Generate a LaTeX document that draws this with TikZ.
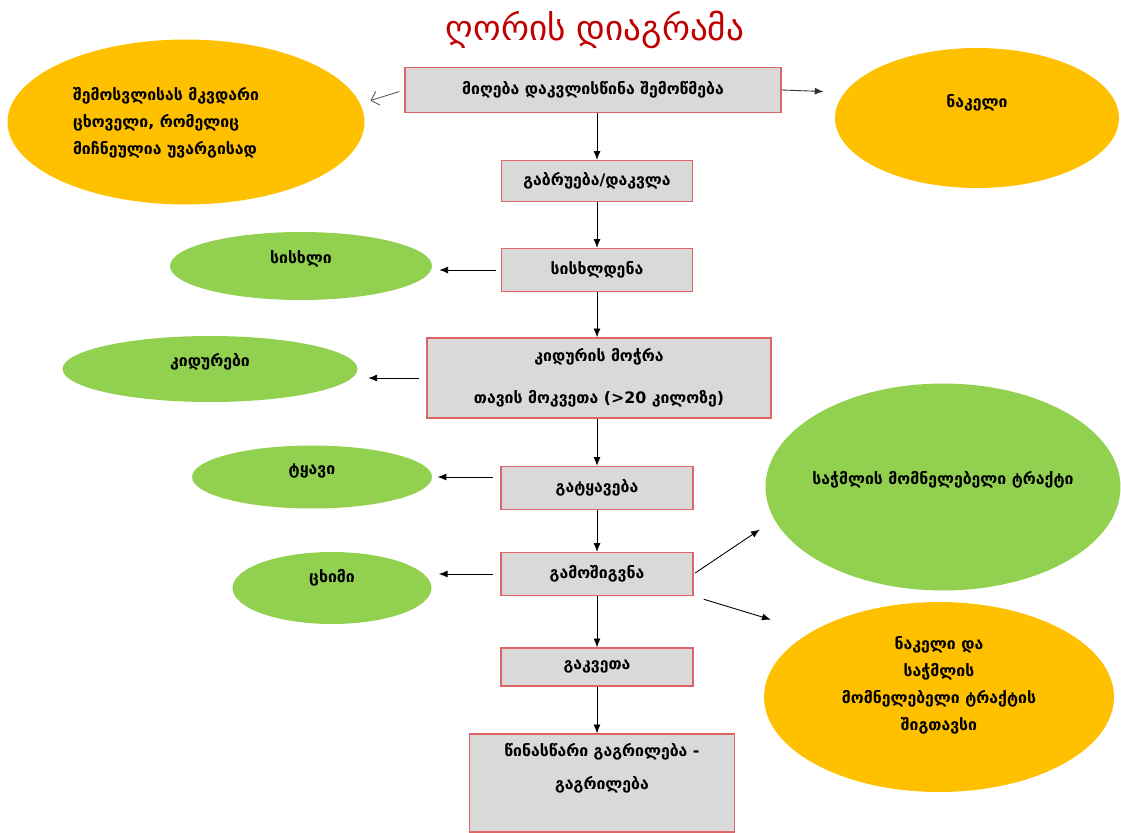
\documentclass[tikz,border=0pt]{standalone}
\usepackage{fontspec}
\setmainfont{DejaVu Sans}
\usetikzlibrary{shapes.geometric,arrows.meta}
\definecolor{boxfill}{HTML}{D9D9D9}
\definecolor{boxline}{HTML}{E06666}
\definecolor{orangefill}{HTML}{FFC000}
\definecolor{greenfill}{HTML}{92D050}
\definecolor{titlered}{HTML}{C00000}

\begin{document}
\begin{tikzpicture}[x=0.02cm, y=-0.02cm,
    stepbox/.style={draw=boxline, fill=boxfill, line width=0.8pt, inner sep=0pt,
      font=\fontsize{9}{11}\bfseries},
    orangeblob/.style={ellipse, fill=orangefill, inner sep=0pt,
      font=\fontsize{9}{15.5}\bfseries},
    greenblob/.style={ellipse, fill=greenfill, inner sep=0pt, text height=7pt, text depth=10pt,
      font=\fontsize{9}{11}\bfseries},
    flow/.style={-{Latex[length=5pt,width=4pt]}, line width=0.5pt}]
  \useasboundingbox (0,0) rectangle (1121,832);

  % title
  \node[text=titlered, font=\fontsize{20}{24}\selectfont] (title) at (595,30) {ღორის დიაგრამა};

  % main line
  \node[stepbox, minimum width=7.52cm, minimum height=0.90cm] (receive) at (593,90) {მიღება დაკვლისწინა შემოწმება};
  \node[stepbox, minimum width=3.82cm, minimum height=0.82cm] (stun) at (597,181) {გაბრუება/დაკვლა};
  \node[stepbox, minimum width=3.82cm, minimum height=0.86cm] (bleed) at (597,270) {სისხლდენა};
  \node[stepbox, minimum width=6.88cm, minimum height=1.60cm, align=center,
    font=\fontsize{9}{24}\bfseries] (head) at (599,378) {კიდურის მოჭრა\\თავის მოკვეთა (>20 კილოზე)};
  \node[stepbox, minimum width=3.84cm, minimum height=0.86cm] (skin) at (597,488) {გატყავება};
  \node[stepbox, minimum width=3.84cm, minimum height=0.86cm] (gut) at (597,574) {გამოშიგვნა};
  \node[stepbox, minimum width=3.84cm, minimum height=0.76cm] (cut) at (597,667) {გაკვეთა};
  \node[stepbox, minimum width=5.30cm, minimum height=1.96cm, align=center,
    font=\fontsize{9}{18.7}\bfseries] (chill) at (602,783) {წინასწარი გაგრილება -\\გაგრილება\\\mbox{}};

  % by-products
  \node[orangeblob, minimum width=7.14cm, minimum height=3.30cm] (dead) at (186,122)
    {\begin{tabular}{@{}l@{\hspace{0.8cm}}}შემოსვლისას მკვდარი\\ცხოველი, რომელიც\\მიჩნეულია უვარგისად\end{tabular}};
  \node[orangeblob, minimum width=5.68cm, minimum height=2.80cm, text height=7pt, text depth=19pt] (manure) at (977,118) {ნაკელი};
  \node[greenblob, minimum width=5.24cm, minimum height=1.36cm] (blood) at (301,266) {სისხლი};
  \node[greenblob, minimum width=5.90cm, minimum height=1.32cm] (limbs) at (210,369) {კიდურები};
  \node[greenblob, minimum width=4.80cm, minimum height=1.26cm] (hide) at (312,477) {ტყავი};
  \node[greenblob, minimum width=3.98cm, minimum height=1.44cm, text depth=13pt] (fat) at (332,588) {ცხიმი};
  \node[greenblob, minimum width=7.10cm, minimum height=4.14cm, inner xsep=-12pt] (tract) at (943,487) {საჭმლის მომნელებელი ტრაქტი};
  \node[orangeblob, minimum width=7.00cm, minimum height=3.80cm, align=center] (content) at (939,697)
    {ნაკელი და\\საჭმლის\\მომნელებელი ტრაქტის\\შიგთავსი\\\mbox{}};

  \draw[flow] (receive.south -| stun.north) -- (stun.north);
  \draw[flow] (stun) -- (bleed);
  \draw[flow] (bleed.south) -- (bleed.south |- head.north);
  \draw[flow] (head.south -| skin.north) -- (skin.north);
  \draw[flow] (skin) -- (gut);
  \draw[flow] (gut) -- (cut);
  \draw[flow] (cut.south) -- (cut.south |- chill.north);

  \draw[-{Straight Barb[length=4pt]}, gray!70!black, line width=0.5pt, shorten <=3pt, shorten >=6pt] (receive.west) -- (dead.6);
  \draw[flow, gray!40!black, shorten >=12pt] (receive.east) -- (manure.169);
  \draw[flow, shorten <=3pt, shorten >=4pt] (bleed.west) -- (bleed.west -| blood.east);
  \draw[flow, shorten <=4pt, shorten >=6pt] (head.west) -- (head.west -| limbs.east);
  \draw[flow, shorten <=4pt, shorten >=3pt] (skin.west |- hide.east) -- (hide.east);
  \draw[flow, shorten <=4pt, shorten >=4pt] (gut.west) -- (gut.west -| fat.east);
  \draw[flow, shorten <=1pt, shorten >=10pt] (gut.east) -- (tract.191);
  \draw[flow, shorten <=6pt, shorten >=24pt] (gut.south east) -- (content.153);
\end{tikzpicture}
\end{document}
